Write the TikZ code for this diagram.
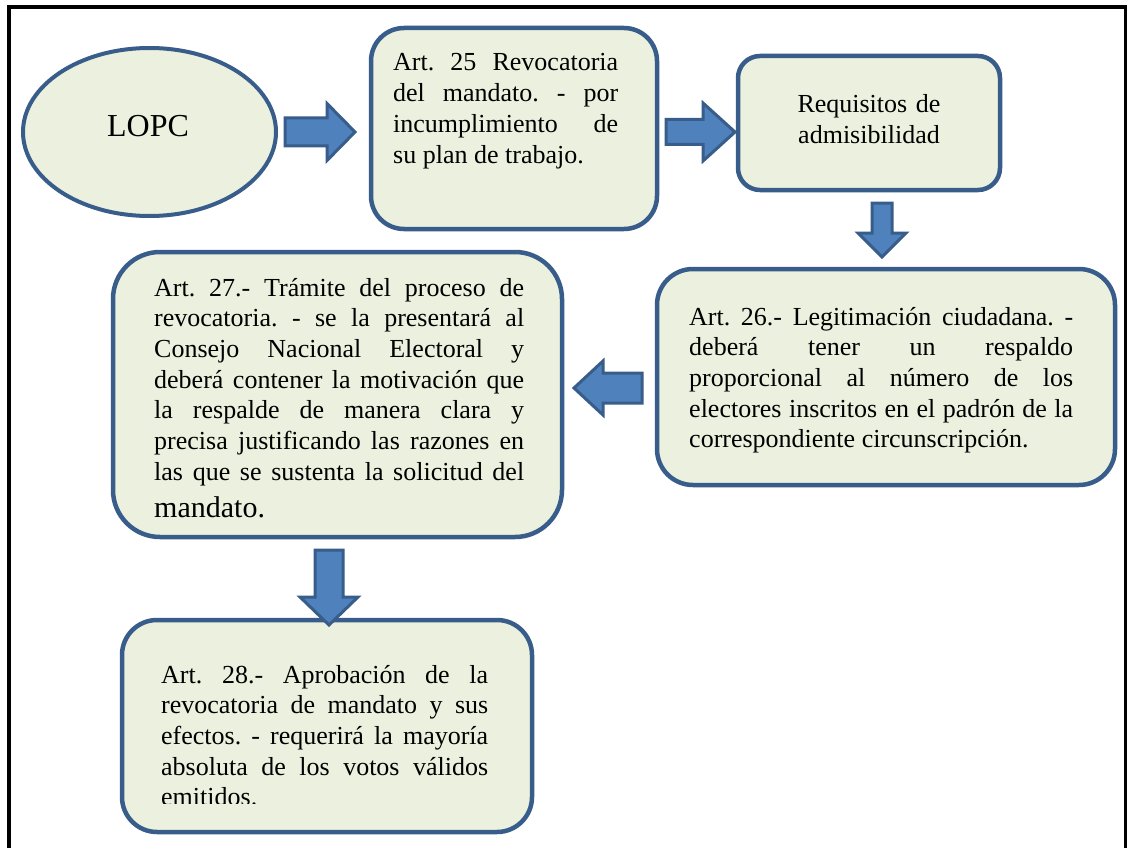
\documentclass[tikz,border=0pt]{standalone}
\usepackage{fontspec}
\setmainfont{Liberation Serif}
\usetikzlibrary{shapes.geometric}
\definecolor{bordc}{RGB}{56,93,138}
\definecolor{fillc}{RGB}{235,241,222}
\definecolor{arrc}{RGB}{79,129,189}
\newcommand{\wsp}{\spaceskip=0.25em plus 3em minus 0.06em\xspaceskip=\spaceskip}
\newcommand{\jline}[2]{\leavevmode\hbox to #1{\wsp #2}}
\newcommand{\txtfont}{\fontsize{26}{30.7}\selectfont}
\tikzset{
 boxsty/.style={draw=bordc, fill=fillc, line width=4.5pt, inner sep=0pt},
 txtsty/.style={inner sep=0pt, align=left, font=\txtfont, anchor=base west},
 arrowsty/.style={draw=bordc, fill=arrc, line width=3pt, line join=miter},
 pics/barrow/.style n args={4}{code={\draw[arrowsty] (0,-#2) -- (#3,-#2) -- (#3,-#4) -- (#1,0) -- (#3,#4) -- (#3,#2) -- (0,#2) -- cycle;}}
}
\begin{document}
\begin{tikzpicture}[x=1pt,y=-1pt]
\useasboundingbox (0,0) rectangle (1127,848);
\fill[white] (0,0) rectangle (1127,848);
% frame
\draw[line width=4pt] (8.5,848) -- (8.5,7) -- (1126,7) -- (1126,848);
% shapes
\node[boxsty, ellipse, line width=4pt, minimum width=253pt, minimum height=168pt] (lopc) at (149.5,132) {};
\node[inner sep=0pt, anchor=base, font=\fontsize{32}{38}\selectfont] (lopct) at (148,136) {LOPC};
\node[boxsty, rounded corners=33pt, minimum width=286pt, minimum height=201pt] (a25) at (514,128.5) {};
\node[boxsty, rounded corners=22pt, minimum width=262pt, minimum height=134pt] (req) at (869,123) {};
\node[boxsty, rounded corners=36pt, minimum width=458pt, minimum height=216pt] (a26) at (886,377) {};
\node[boxsty, rounded corners=47pt, minimum width=449pt, minimum height=285pt] (a27) at (337.5,394.5) {};
\node[boxsty, rounded corners=35pt, minimum width=410pt, minimum height=212pt] (a28) at (327,726) {};
% texts
\node[txtsty, text width=225pt] (t25) at (393,71) {\wsp\jline{225pt}{Art. 25 Revocatoria}\\ \jline{225pt}{del mandato. - por}\\ \jline{225pt}{incumplimiento de}\\ su plan de trabajo.};
\node[inner sep=0pt, anchor=base, align=center, text width=262pt, font=\txtfont] (treq) at (869,113) {Requisitos de\\ admisibilidad};
\node[txtsty, text width=384pt] (t26) at (689,325) {\wsp\jline{384pt}{Art. 26.- Legitimación ciudadana. -}\\ \jline{384pt}{deberá tener un respaldo}\\ \jline{384pt}{proporcional al número de los}\\ \jline{384pt}{electores inscritos en el padrón de la}\\ correspondiente circunscripción.};
\node[txtsty, text width=370pt] (t27) at (154,296) {\wsp\jline{370pt}{Art. 27.- Trámite del proceso de}\\ \jline{370pt}{revocatoria. - se la presentará al}\\ \jline{370pt}{Consejo Nacional Electoral y}\\ \jline{370pt}{deberá contener la motivación que}\\ \jline{370pt}{la respalde de manera clara y}\\ \jline{370pt}{precisa justificando las razones en}\\ \jline{370pt}{las que se sustenta la solicitud del}\\[6.3pt] {\fontsize{30}{36}\selectfont mandato.}};
\begin{scope}
\clip (0,0) rectangle (1127,803);
\node[txtsty, text width=327pt] (t28) at (161,683) {\wsp\jline{327pt}{Art. 28.- Aprobación de la}\\ \jline{327pt}{revocatoria de mandato y sus}\\ \jline{327pt}{efectos. - requerirá la mayoría}\\ \jline{327pt}{absoluta de los votos válidos}\\ emitidos.};
\end{scope}
% block arrows
\pic (ar1) at (285,132) {barrow={70}{14}{42}{28.5}};
\pic (ar2) at (666,132) {barrow={69}{12.5}{37}{29}};
\pic[rotate=-90] (ar3) at (882,203) {barrow={54}{10}{30}{24}};
\pic[rotate=180] (ar4) at (642,388) {barrow={68}{15}{39}{27}};
\pic[rotate=-90] (ar5) at (329,550) {barrow={75}{14}{47}{29}};
\end{tikzpicture}
\end{document}
